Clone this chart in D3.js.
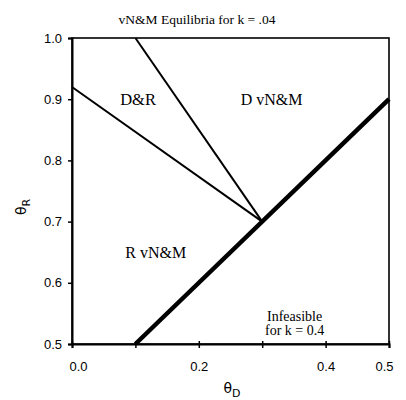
<!DOCTYPE html>
<html>
<head>
<meta charset="utf-8">
<script src="https://cdn.jsdelivr.net/npm/d3@7"></script>
<style>
body { margin: 0; background: #fff; }
svg text { fill: #000; }
.serif { font-family: "Liberation Serif", "DejaVu Serif", serif; }
.tick text { font-family: "Liberation Sans", "DejaVu Sans", sans-serif; font-size: 13px; }
</style>
</head>
<body>
<svg id="chart" width="406" height="400"></svg>
<script>
// boundaries between regions (thetaD, thetaR)
var drLine = [[0, 0.92], [0.3, 0.7]];
var dLine = [[0.1, 1.0], [0.3, 0.7]];
var feasLine = [[0.1, 0.5], [0.5, 0.9]];

var xTicks = [0, 0.1, 0.2, 0.3, 0.4, 0.5];
var xTickLabels = ['0.0', '', '0.2', '', '0.4', '0.5'];
var yTicks = [0.5, 0.6, 0.7, 0.8, 0.9, 1.0];
var yTickLabels = ['0.5', '0.6', '0.7', '0.8', '0.9', '1.0'];

// region labels
var regionNames = ['D&R', 'D vN&M', 'R vN&M'];
var regionPos = [[0.076, 0.89], [0.266, 0.891], [0.084, 0.64]];

var svg = d3.select('#chart');
var x = d3.scaleLinear().domain([0, 0.5]).range([72, 389]);
var y = d3.scaleLinear().domain([0.5, 1.0]).range([344, 38]);

// title
svg.append('text')
    .attr('class', 'serif')
    .attr('x', 197).attr('y', 24)
    .attr('text-anchor', 'middle')
    .style('font-size', '13.5px')
    .text('vN&M Equilibria for k = .04');

// frame
svg.append('rect')
    .attr('x', x(0)).attr('y', y(1))
    .attr('width', x(0.5) - x(0)).attr('height', y(0.5) - y(1))
    .attr('fill', 'none').attr('stroke', '#000').attr('stroke-width', 1.6);

var xAxis = svg.append('g')
    .attr('transform', 'translate(0,' + y(0.5) + ')')
    .call(d3.axisBottom(x).tickValues(xTicks).tickSize(4).tickPadding(14)
        .tickFormat(function(d, i) { return xTickLabels[i]; }));
xAxis.select('.domain').attr('stroke-width', 2);
xAxis.selectAll('.tick line').attr('y1', -3).attr('stroke-width', 1.5);
xAxis.selectAll('.tick text')
    .attr('dx', function(d, i) { return i == 0 ? 6 : (i == xTicks.length - 1 ? -5 : 0); });

var yAxis = svg.append('g')
    .attr('transform', 'translate(' + x(0) + ',0)')
    .call(d3.axisLeft(y).tickValues(yTicks).tickSize(4).tickPadding(6)
        .tickFormat(function(d, i) { return yTickLabels[i]; }));
yAxis.select('.domain').attr('stroke-width', 2);
yAxis.selectAll('.tick line').attr('stroke-width', 1.5);

var line = d3.line()
    .x(function(d) { return x(d[0]); })
    .y(function(d) { return y(d[1]); });

svg.append('path').datum(drLine).attr('d', line)
    .attr('fill', 'none').attr('stroke', '#000').attr('stroke-width', 2);
svg.append('path').datum(dLine).attr('d', line)
    .attr('fill', 'none').attr('stroke', '#000').attr('stroke-width', 2);
svg.append('path').datum(feasLine).attr('d', line)
    .attr('fill', 'none').attr('stroke', '#000').attr('stroke-width', 4.5);

svg.selectAll('.region')
    .data(regionNames)
    .enter().append('text')
    .attr('class', 'serif region')
    .attr('x', function(d, i) { return x(regionPos[i][0]); })
    .attr('y', function(d, i) { return y(regionPos[i][1]); })
    .style('font-size', function(d, i) { return i == 0 ? '16.5px' : '16px'; })
    .text(function(d) { return d; });

var inf = svg.append('text')
    .attr('class', 'serif')
    .attr('x', 267).attr('y', 321)
    .style('font-size', '14px');
inf.append('tspan').text('Infeasible');
inf.append('tspan').attr('x', 265).attr('dy', 14).text('for k = 0.4');

// axis titles
var xt = svg.append('text')
    .attr('x', 232).attr('y', 393)
    .attr('text-anchor', 'middle')
    .style('font-family', 'DejaVu Sans, sans-serif')
    .style('font-size', '14px');
xt.append('tspan').text('θ');
xt.append('tspan').attr('dy', 4).style('font-size', '11px').text('D');

var yt = svg.append('text')
    .attr('transform', 'translate(26,207) rotate(-90)')
    .attr('text-anchor', 'middle')
    .style('font-family', 'DejaVu Sans, sans-serif')
    .style('font-size', '14px');
yt.append('tspan').text('θ');
yt.append('tspan').attr('dy', 4).style('font-size', '11px').text('R');
</script>
</body>
</html>
